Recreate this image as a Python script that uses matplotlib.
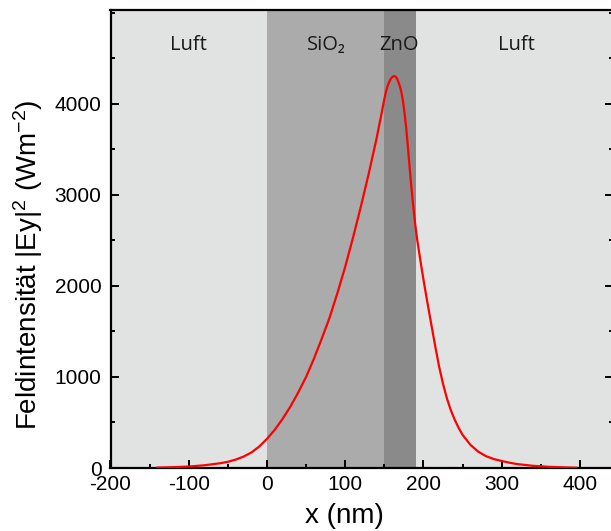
import matplotlib
matplotlib.use("Agg")
import matplotlib.pyplot as plt
from matplotlib.ticker import MultipleLocator

plt.rcParams['font.family'] = ['Liberation Sans', 'DejaVu Sans']
plt.rcParams['mathtext.fontset'] = 'custom'
plt.rcParams['mathtext.rm'] = 'Liberation Sans'
plt.rcParams['mathtext.it'] = 'Liberation Sans'
plt.rcParams['mathtext.default'] = 'regular'

# Field intensity curve
x_nm = [-140, -120, -100, -80, -60, -50, -40, -30, -20, -10, 0, 10, 20, 30, 40, 50,
        60, 70, 80, 90, 100, 110, 120, 130, 140, 145, 150, 152, 154, 156, 158, 160,
        162, 163, 164, 166, 168, 170, 172, 174, 176, 178, 180, 182, 184, 186, 188,
        190, 192, 194, 196, 198, 200, 205, 210, 215, 220, 225, 230, 235, 240, 245,
        250, 260, 270, 280, 290, 300, 310, 320, 340, 360, 380, 395]
intensity = [5, 9, 16, 30, 52, 68, 92, 125, 170, 235, 320, 420, 540, 675, 830, 1000,
             1200, 1420, 1650, 1920, 2210, 2530, 2870, 3230, 3615, 3830, 4050, 4130, 4190, 4235, 4270, 4292,
             4303, 4305, 4300, 4280, 4240, 4190, 4120, 4020, 3890, 3730, 3540, 3335, 3140, 2960, 2790,
             2640, 2510, 2395, 2285, 2175, 2070, 1820, 1580, 1340, 1115, 925, 765, 635, 530, 440,
             365, 255, 180, 130, 98, 77, 58, 43, 24, 13, 7, 4]

# Layer regions (start, end) in nm
regions = [(-200, 0), (0, 150), (150, 190), (190, 442.3)]
region_colors = ['#e1e2e2', '#ababab', '#8a8a8a', '#e1e2e2']
region_labels = ['Luft', 'SiO₂', 'ZnO', 'Luft']
label_x = [-100, 75.5, 169, 319]

x_ticks = [-200, -100, 0, 100, 200, 300, 400]
y_ticks = [0, 1000, 2000, 3000, 4000]

fig = plt.figure(figsize=(6.11, 5.31), dpi=100)
ax = fig.add_axes([110.5 / 611, 1 - 468 / 531, (613 - 110.5) / 611, (468 - 10) / 531])

for (a, b), c in zip(regions, region_colors):
    ax.axvspan(a, b, color=c, lw=0, zorder=0)

ax.plot(x_nm, intensity, color='#ff0000', lw=1.6, zorder=3)

for lx, lab in zip(label_x, region_labels):
    ax.text(lx, 4596, lab, ha='center', va='baseline', fontsize=14.5,
            family=['Open Sans', 'DejaVu Sans'], color='#1a1a1a')

ax.set_xlim(-200, 442.3)
ax.set_ylim(0, 5030)
ax.set_xticks(x_ticks)
ax.set_xticklabels([str(v) for v in x_ticks])
ax.set_yticks(y_ticks)
ax.xaxis.set_minor_locator(MultipleLocator(50))
ax.yaxis.set_minor_locator(MultipleLocator(500))
ax.tick_params(which='both', direction='in', top=False, right=True, labelsize=15, width=1.4)
ax.tick_params(which='major', length=5.5)
ax.tick_params(which='minor', length=3)
ax.tick_params(axis='x', which='major', pad=5)
ax.tick_params(axis='y', which='major', pad=6.5)
for s in ax.spines.values():
    s.set_linewidth(1.6)

ax.set_xlabel('x (nm)', fontsize=20)
ax.xaxis.set_label_coords((344 - 110.5) / (613 - 110.5), -(503 - 468) / 458)
fig.text(28 / 611, 1 - 265 / 531, 'Feldintensität |Ey|$^2$ (Wm$^{-2}$)', fontsize=20,
         rotation=90, ha='center', va='center')

fig.savefig('out.png', dpi=100)
